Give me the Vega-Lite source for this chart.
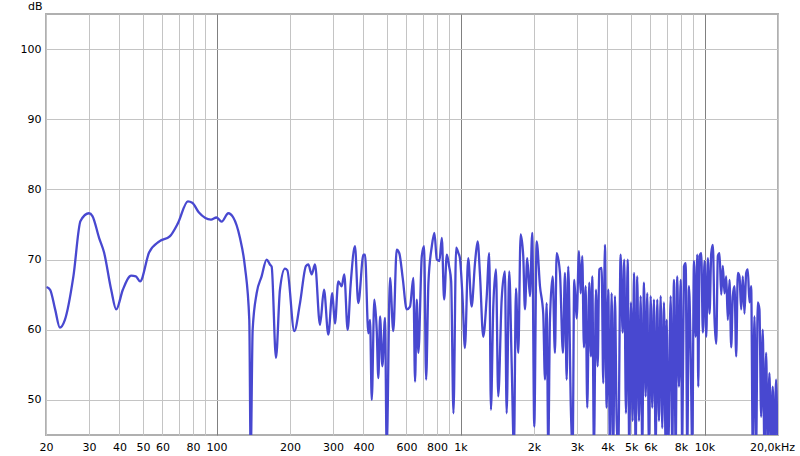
{
  "$schema": "https://vega.github.io/schema/vega-lite/v6.json",
  "width": 732,
  "height": 421,
  "autosize": "none",
  "padding": {"left": 46, "top": 14, "right": 22, "bottom": 21},
  "background": "white",
  "config": {
    "view": {"stroke": "#b0b0b0", "strokeWidth": 2},
    "axis": {"labelFont": "DejaVu Sans", "labelFontSize": 11, "labelColor": "#000000", "titleFont": "DejaVu Sans", "titleFontSize": 11, "titleFontWeight": "normal", "titleColor": "#000000", "domain": false, "ticks": false}
  },
  "data": {"values": [
    {"f":20.1,"db":66.1},{"f":20.8,"db":65.7},{"f":21.8,"db":62.9},{"f":22.8,"db":60.3},{"f":23.9,"db":61.4},{"f":25.9,"db":67.6},{"f":27.7,"db":75.5},{"f":30,"db":76.6},{"f":31,"db":76.2},{"f":33,"db":73.1},{"f":34.6,"db":71},{"f":37,"db":65.7},{"f":38.8,"db":62.9},{"f":41.3,"db":65.7},{"f":44.7,"db":67.7},{"f":46.7,"db":67.6},{"f":48.6,"db":66.9},{"f":52.9,"db":71},{"f":58.3,"db":72.6},{"f":64.3,"db":73.3},{"f":69.5,"db":75.2},{"f":76.3,"db":78.3},{"f":79.5,"db":78.1},{"f":84.7,"db":76.7},{"f":94.9,"db":75.7},{"f":100,"db":76.0},{"f":104.9,"db":75.4},{"f":111.7,"db":76.6},{"f":117.1,"db":76},{"f":124.7,"db":73.1},{"f":130.7,"db":69.0},{"f":136.2,"db":61.4},{"f":138,"db":42},{"f":140.6,"db":60},{"f":146,"db":65.2},{"f":153,"db":67.6},{"f":160.4,"db":70},{"f":165.5,"db":69.3},{"f":168.2,"db":69.0},{"f":175.2,"db":56.0},{"f":181.9,"db":65.7},{"f":190.7,"db":68.7},{"f":194.9,"db":68.5},{"f":208.3,"db":59.8},{"f":219.8,"db":63.8},{"f":232.6,"db":69.1},{"f":237.7,"db":69.3},{"f":245.4,"db":67.9},{"f":253.2,"db":69.3},{"f":265.4,"db":60.7},{"f":275.7,"db":65.7},{"f":287.1,"db":59.3},{"f":298,"db":65.2},{"f":305.7,"db":60.9},{"f":315.4,"db":66.9},{"f":325.7,"db":66.2},{"f":333.7,"db":67.9},{"f":344.6,"db":60},{"f":354.4,"db":66.4},{"f":369.2,"db":71.9},{"f":380.9,"db":63.8},{"f":400,"db":70.7},{"f":406,"db":70.7},{"f":418.9,"db":59.5},{"f":425.7,"db":61.4},{"f":432.6,"db":50},{"f":443.3,"db":64.3},{"f":453.5,"db":59.8},{"f":460.4,"db":53.1},{"f":467.9,"db":61.9},{"f":478.1,"db":54.8},{"f":490.4,"db":61.7},{"f":498,"db":43},{"f":513.9,"db":67.4},{"f":530.1,"db":59.8},{"f":547.4,"db":71.4},{"f":561,"db":70.9},{"f":579.3,"db":67.4},{"f":601.8,"db":62.9},{"f":620.7,"db":63.3},{"f":640.4,"db":67.4},{"f":651,"db":52.6},{"f":661.5,"db":64.3},{"f":671.7,"db":56.7},{"f":693.8,"db":70.5},{"f":709.1,"db":71.9},{"f":722.6,"db":52.9},{"f":738.5,"db":66.7},{"f":762.5,"db":71.9},{"f":781.5,"db":73.8},{"f":799.4,"db":70},{"f":819.3,"db":69.8},{"f":838.1,"db":73.1},{"f":856.5,"db":64.3},{"f":878.6,"db":70.7},{"f":898,"db":69.0},{"f":915.1,"db":66.9},{"f":935.3,"db":48.1},{"f":959.4,"db":71.7},{"f":980.5,"db":70.9},{"f":994,"db":70.2},{"f":1020,"db":64.3},{"f":1042,"db":57.4},{"f":1075,"db":70.2},{"f":1110,"db":63.3},{"f":1146,"db":69.5},{"f":1175,"db":72.6},{"f":1201,"db":67.9},{"f":1239,"db":59.0},{"f":1279,"db":64.5},{"f":1311,"db":70.9},{"f":1332,"db":48.6},{"f":1362,"db":63.3},{"f":1397,"db":68.6},{"f":1427,"db":50.5},{"f":1474,"db":64.3},{"f":1520,"db":68.3},{"f":1545,"db":48.1},{"f":1583,"db":68.3},{"f":1620,"db":55.2},{"f":1655,"db":43},{"f":1687,"db":65.9},{"f":1724,"db":56.7},{"f":1763,"db":73.6},{"f":1807,"db":70.5},{"f":1836,"db":62.9},{"f":1876,"db":70.2},{"f":1925,"db":64.8},{"f":1967,"db":73.8},{"f":2005,"db":46.2},{"f":2051,"db":72.6},{"f":2116,"db":66.2},{"f":2182,"db":62.3},{"f":2218,"db":52.9},{"f":2254,"db":63.8},{"f":2288,"db":43},{"f":2325,"db":61.4},{"f":2385,"db":67.6},{"f":2437,"db":56.7},{"f":2477,"db":70.9},{"f":2555,"db":68.1},{"f":2628,"db":56.7},{"f":2678,"db":68.1},{"f":2722,"db":52.9},{"f":2763,"db":69.0},{"f":2835,"db":48.1},{"f":2880,"db":43},{"f":2924,"db":67.1},{"f":2991,"db":61.6},{"f":3057,"db":71.2},{"f":3106,"db":65.2},{"f":3153,"db":70.5},{"f":3204,"db":57.5},{"f":3256,"db":66.2},{"f":3306,"db":48.9},{"f":3369,"db":66.7},{"f":3423,"db":56.2},{"f":3466,"db":67.6},{"f":3521,"db":43},{"f":3589,"db":65.7},{"f":3647,"db":54.8},{"f":3702,"db":68.6},{"f":3787,"db":68.8},{"f":3845,"db":52.4},{"f":3907,"db":72.1},{"f":3970,"db":48.9},{"f":4030,"db":65.7},{"f":4095,"db":43},{"f":4161,"db":65.2},{"f":4225,"db":43},{"f":4293,"db":64.8},{"f":4363,"db":47},{"f":4429,"db":43},{"f":4530,"db":70.7},{"f":4617,"db":59.6},{"f":4687,"db":70},{"f":4763,"db":48.1},{"f":4840,"db":70},{"f":4914,"db":43},{"f":4993,"db":63.9},{"f":5074,"db":47},{"f":5137,"db":68.1},{"f":5219,"db":43},{"f":5299,"db":67.6},{"f":5385,"db":47},{"f":5472,"db":64.8},{"f":5555,"db":43},{"f":5645,"db":66.7},{"f":5736,"db":50.5},{"f":5824,"db":65.2},{"f":5918,"db":43},{"f":6014,"db":64.8},{"f":6105,"db":48.9},{"f":6204,"db":64.3},{"f":6304,"db":43},{"f":6400,"db":64.3},{"f":6504,"db":47},{"f":6609,"db":64.8},{"f":6709,"db":46},{"f":6818,"db":63.9},{"f":6928,"db":43},{"f":6994,"db":61.4},{"f":7100,"db":43},{"f":7263,"db":64.8},{"f":7374,"db":43},{"f":7493,"db":67.1},{"f":7614,"db":43},{"f":7730,"db":67.6},{"f":7855,"db":51.9},{"f":7982,"db":67.1},{"f":8104,"db":43},{"f":8234,"db":69},{"f":8368,"db":69.5},{"f":8495,"db":43},{"f":8632,"db":66.2},{"f":8772,"db":56.7},{"f":8905,"db":43},{"f":9050,"db":69.8},{"f":9196,"db":59},{"f":9336,"db":70.7},{"f":9425,"db":51.9},{"f":9540,"db":70.5},{"f":9694,"db":70.9},{"f":9842,"db":59.6},{"f":10000,"db":69.8},{"f":10162,"db":59},{"f":10316,"db":70.2},{"f":10483,"db":62.3},{"f":10652,"db":70.9},{"f":10815,"db":72.1},{"f":10990,"db":61.4},{"f":11167,"db":58},{"f":11337,"db":70.5},{"f":11520,"db":70.9},{"f":11706,"db":65},{"f":11884,"db":69.1},{"f":12075,"db":65.2},{"f":12270,"db":67.6},{"f":12456,"db":61.4},{"f":12657,"db":67.1},{"f":12861,"db":57.5},{"f":13057,"db":64.8},{"f":13267,"db":66.2},{"f":13481,"db":56.2},{"f":13686,"db":68.1},{"f":13906,"db":67.6},{"f":14131,"db":62.9},{"f":14345,"db":67.6},{"f":14577,"db":62.3},{"f":14812,"db":68.1},{"f":15037,"db":68.6},{"f":15279,"db":63.9},{"f":15526,"db":66.2},{"f":15761,"db":43},{"f":16015,"db":61.9},{"f":16274,"db":43},{"f":16521,"db":63.9},{"f":16787,"db":62.9},{"f":17058,"db":47.6},{"f":17317,"db":60},{"f":17596,"db":43},{"f":17880,"db":56.7},{"f":18151,"db":43},{"f":18444,"db":53.8},{"f":18741,"db":43},{"f":19026,"db":51.9},{"f":19333,"db":43},{"f":19645,"db":52.9},{"f":19900,"db":43}
  ]},
  "mark": {"type": "line", "color": "#4848d0", "strokeWidth": 2.3, "clip": true, "interpolate": "monotone"},
  "encoding": {
    "x": {
      "field": "f", "type": "quantitative",
      "scale": {"type": "log", "domain": [20, 20000], "nice": false},
      "axis": {
        "title": null,
        "values": [20,30,40,50,60,70,80,90,100,200,300,400,500,600,700,800,900,1000,2000,3000,4000,5000,6000,7000,8000,9000,10000,20000],
        "labelExpr": "indexof([70,90,500,700,900,7000,9000], datum.value) >= 0 ? '' : (datum.value == 20000 ? '20,0kHz' : (datum.value >= 1000 ? (datum.value/1000) + 'k' : '' + datum.value))",
        "labelPadding": 6,
        "labelFlush": false,
        "labelOverlap": false,
        "labelOffset": {"condition": {"test": "datum.value == 20000", "value": -6}, "value": 0},
        "grid": true,
        "gridColor": {"condition": {"test": "datum.value == 100 || datum.value == 1000 || datum.value == 10000", "value": "#808080"}, "value": "#c4c4c4"},
        "gridWidth": 1
      }
    },
    "y": {
      "field": "db", "type": "quantitative",
      "scale": {"domain": [45, 105], "nice": false, "zero": false},
      "axis": {
        "values": [50,60,70,80,90,100],
        "title": "dB",
        "titleAngle": 0,
        "titleAlign": "right",
        "titleBaseline": "top",
        "titleX": -4,
        "titleY": -14,
        "labelPadding": 5,
        "grid": true,
        "gridColor": "#c4c4c4"
      }
    }
  }
}
